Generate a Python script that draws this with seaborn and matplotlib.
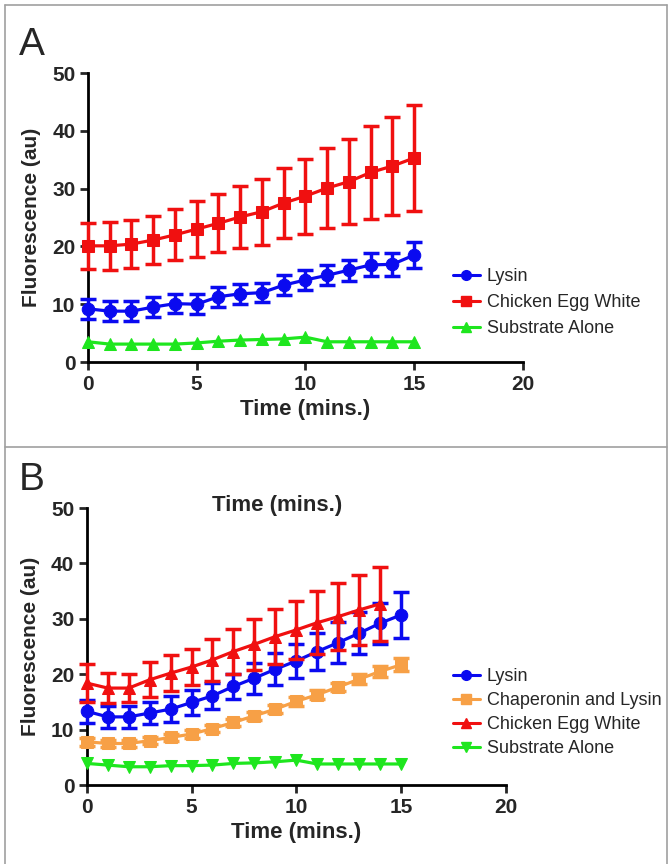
import numpy as np
import pandas as pd
import matplotlib
matplotlib.use("Agg")
import matplotlib.pyplot as plt
import seaborn as sns
from matplotlib.lines import Line2D

sns.set_style("ticks")
plt.rcParams['font.family'] = ['Liberation Sans', 'DejaVu Sans']

# time points (mins.)
time = list(range(16))

# Panel A values (mean, error)
a_lysin = [9.2, 8.8, 8.8, 9.5, 10.1, 10.0, 11.3, 11.8, 12.0, 13.3, 14.2, 15.0, 15.9, 16.8, 16.9, 18.5]
a_lysin_err = [1.7, 1.7, 1.7, 1.7, 1.6, 1.7, 1.7, 1.7, 1.7, 1.7, 1.7, 1.7, 1.8, 2.0, 2.0, 2.2]
a_cew = [20.1, 20.1, 20.4, 21.1, 22.0, 23.0, 24.0, 25.1, 26.0, 27.5, 28.7, 30.1, 31.2, 32.8, 33.9, 35.3]
a_cew_err = [4.0, 4.1, 4.1, 4.2, 4.4, 4.8, 5.0, 5.4, 5.7, 6.0, 6.5, 6.9, 7.4, 8.0, 8.5, 9.2]
a_sub = [3.5, 3.1, 3.1, 3.1, 3.1, 3.3, 3.6, 3.8, 3.9, 4.0, 4.3, 3.5, 3.5, 3.5, 3.5, 3.5]

# Panel B values (mean, error)
b_lysin = [13.3, 12.3, 12.3, 13.0, 13.7, 14.9, 16.1, 17.8, 19.3, 20.9, 22.4, 24.1, 25.7, 27.4, 29.2, 30.7]
b_lysin_err = [2.1, 2.0, 2.0, 2.0, 2.3, 2.3, 2.4, 2.3, 2.8, 2.9, 3.1, 3.4, 3.7, 3.8, 3.7, 4.1]
b_chap = [7.8, 7.5, 7.5, 8.0, 8.6, 9.2, 10.2, 11.3, 12.5, 13.7, 15.1, 16.3, 17.7, 19.1, 20.5, 21.7]
b_chap_err = [0.7, 0.6, 0.6, 0.6, 0.6, 0.7, 0.7, 0.7, 0.7, 0.7, 0.8, 0.8, 0.8, 0.9, 1.0, 1.2]
b_cew = [18.4, 17.5, 17.5, 19.0, 20.2, 21.3, 22.6, 24.1, 25.4, 26.8, 28.0, 29.3, 30.4, 31.6, 32.7]
b_cew_err = [3.5, 2.7, 2.5, 3.2, 3.2, 3.2, 3.8, 4.1, 4.6, 4.9, 5.3, 5.7, 6.0, 6.4, 6.7]
b_sub = [3.9, 3.6, 3.3, 3.3, 3.5, 3.5, 3.6, 3.9, 4.0, 4.2, 4.5, 3.8, 3.8, 3.8, 3.8, 3.8]

BLUE = "#0a0af0"
RED = "#f01010"
GREEN = "#1ee61e"
ORANGE = "#f7a046"


def draw_series(ax, y, err, color, marker, label):
    x = time[:len(y)]
    df = pd.DataFrame({"t": x, "v": y})
    sns.lineplot(data=df, x="t", y="v", ax=ax, color=color, marker=marker,
                 markersize=9, markeredgecolor=color, linewidth=2.3,
                 label=label, clip_on=False, zorder=3)
    if err is not None:
        ax.errorbar(x, y, yerr=err, fmt="none", ecolor=color, elinewidth=2.5,
                    capsize=5.5, capthick=2.5, clip_on=False, zorder=3)
    return Line2D([0], [0], color=color, marker=marker, markersize=7, linewidth=2.2)


def style_axes(ax):
    ax.set_xlim(0, 20)
    ax.set_ylim(0, 50)
    ax.set_xticks([0, 5, 10, 15, 20])
    ax.set_yticks([0, 10, 20, 30, 40, 50])
    sns.despine(ax=ax)
    for s in ["left", "bottom"]:
        ax.spines[s].set_linewidth(2.0)
        ax.spines[s].set_color("black")
    ax.tick_params(width=2.0, length=6, direction="out", labelsize=15, pad=3)
    for lab in ax.get_xticklabels() + ax.get_yticklabels():
        lab.set_fontweight("bold")
    ax.set_xlabel("Time (mins.)", fontsize=16, fontweight="bold", labelpad=4)
    ax.set_ylabel("Fluorescence (au)", fontsize=15, fontweight="bold", labelpad=8)


fig = plt.figure(figsize=(6.68, 8.64), dpi=100)

# panel frames
for coords in [([0.008, 0.008], [0.0, 0.994]), ([0.008, 0.999], [0.994, 0.994]),
               ([0.008, 0.999], [0.483, 0.483]), ([0.999, 0.999], [0.0, 0.994])]:
    fig.add_artist(Line2D(coords[0], coords[1], color="#a0a0a0", linewidth=1.2,
                          transform=fig.transFigure))

# Panel A
ax_a = fig.add_axes([0.1317, 0.581, 0.651, 0.3345])
h1 = draw_series(ax_a, a_lysin, a_lysin_err, BLUE, "o", "Lysin")
h2 = draw_series(ax_a, a_cew, a_cew_err, RED, "s", "Chicken Egg White")
h3 = draw_series(ax_a, a_sub, None, GREEN, "^", "Substrate Alone")
style_axes(ax_a)
ax_a.legend([h1, h2, h3], ["Lysin", "Chicken Egg White", "Substrate Alone"],
            loc="upper left", bbox_to_anchor=(0.664, 0.700), bbox_transform=fig.transFigure,
            frameon=False, fontsize=13, handlelength=1.5, handletextpad=0.4,
            labelspacing=0.5, borderpad=0)
fig.text(0.028, 0.948, "A", fontsize=28, va="center", ha="left")

# Panel B
ax_b = fig.add_axes([0.130, 0.0914, 0.627, 0.3206])
g1 = draw_series(ax_b, b_lysin, b_lysin_err, BLUE, "o", "Lysin")
g2 = draw_series(ax_b, b_chap, b_chap_err, ORANGE, "s", "Chaperonin and Lysin")
g3 = draw_series(ax_b, b_cew, b_cew_err, RED, "^", "Chicken Egg White")
g4 = draw_series(ax_b, b_sub, None, GREEN, "v", "Substrate Alone")
style_axes(ax_b)
fig.text(277 / 668, 1 - 505 / 864, "Time (mins.)", fontsize=16, fontweight="bold",
         ha="center", va="center")
ax_b.legend([g1, g2, g3, g4],
            ["Lysin", "Chaperonin and Lysin", "Chicken Egg White", "Substrate Alone"],
            loc="upper left", bbox_to_anchor=(0.664, 0.237), bbox_transform=fig.transFigure,
            frameon=False, fontsize=13, handlelength=1.5, handletextpad=0.4,
            labelspacing=0.38, borderpad=0)
fig.text(0.028, 0.445, "B", fontsize=28, va="center", ha="left")

fig.savefig("out.png", dpi=100)
